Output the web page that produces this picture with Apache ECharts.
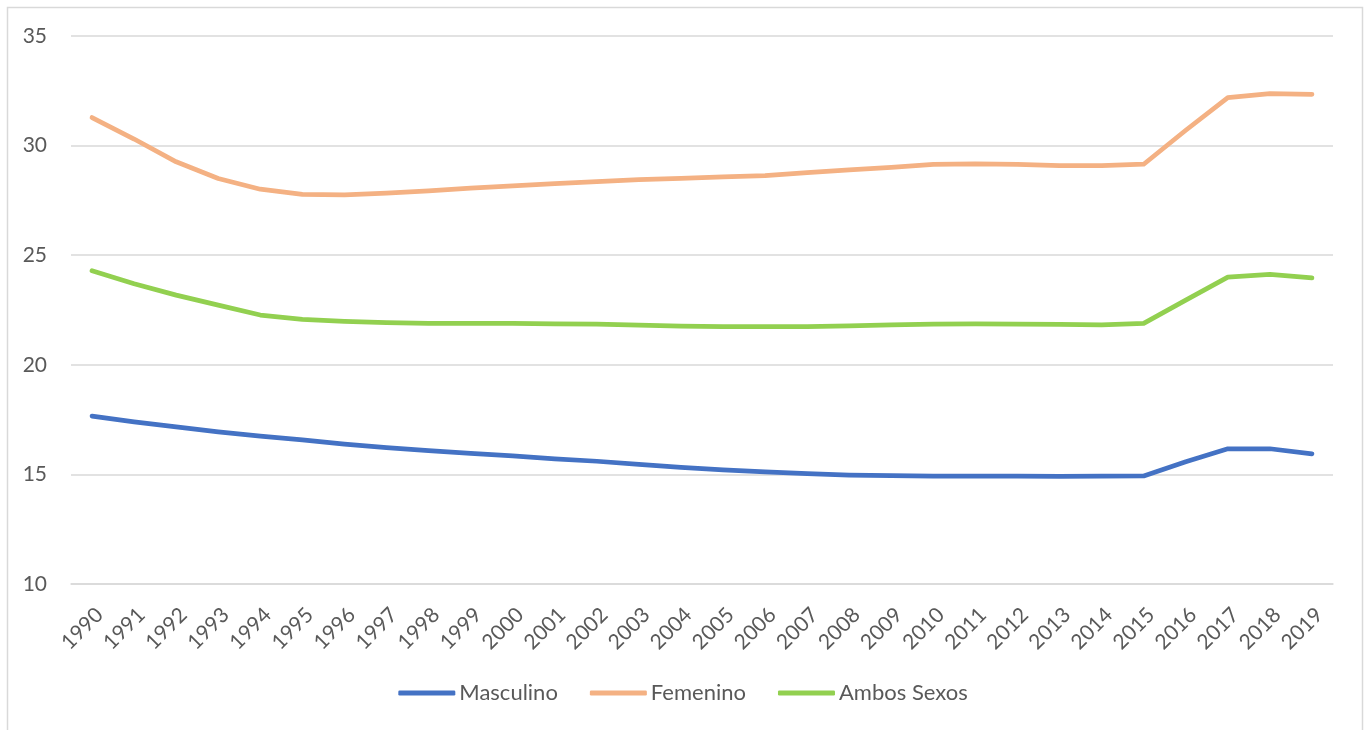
<!DOCTYPE html>
<html>
<head>
<meta charset="utf-8">
<script src="https://cdn.jsdelivr.net/npm/echarts@6/dist/echarts.min.js"></script>
<style>
  html, body { margin: 0; padding: 0; background: #fff; }
  #chart { width: 1366px; height: 730px; }
</style>
</head>
<body>
<div id="chart"></div>
<script>
const years = ['1990','1991','1992','1993','1994','1995','1996','1997','1998','1999',
  '2000','2001','2002','2003','2004','2005','2006','2007','2008','2009',
  '2010','2011','2012','2013','2014','2015','2016','2017','2018','2019'];

const masculino = [17.66, 17.40, 17.17, 16.94, 16.75, 16.57, 16.38, 16.22, 16.08, 15.96,
  15.84, 15.71, 15.60, 15.46, 15.32, 15.21, 15.12, 15.03, 14.97, 14.94,
  14.92, 14.92, 14.92, 14.91, 14.92, 14.93, 15.58, 16.17, 16.17, 15.94];

const femenino = [31.28, 30.30, 29.26, 28.50, 28.01, 27.77, 27.75, 27.83, 27.94, 28.06,
  28.16, 28.27, 28.36, 28.45, 28.51, 28.57, 28.63, 28.77, 28.89, 29.01,
  29.14, 29.17, 29.14, 29.09, 29.09, 29.15, 30.70, 32.19, 32.37, 32.34];

const ambos = [24.29, 23.70, 23.18, 22.72, 22.27, 22.07, 21.98, 21.92, 21.89, 21.89,
  21.89, 21.87, 21.86, 21.81, 21.77, 21.74, 21.74, 21.74, 21.78, 21.82,
  21.86, 21.87, 21.86, 21.84, 21.82, 21.89, 22.95, 24.00, 24.12, 23.97];

const yTicks = { min: 10, max: 35, step: 5 };

const FONT = 'Lato, "Open Sans", sans-serif';
const TEXT = '#595959';

const chart = echarts.init(document.getElementById('chart'), null, { renderer: 'canvas' });

function lineSeries(name, data, color) {
  return {
    name, type: 'line', data,
    showSymbol: false, symbol: 'none', smooth: false,
    lineStyle: { color, width: 4.75, cap: 'round', join: 'round' },
    itemStyle: { color },
    emphasis: { disabled: true }
  };
}

chart.setOption({
  animation: false,
  backgroundColor: '#ffffff',
  graphic: [{
    type: 'rect',
    shape: { x: 7.5, y: 7.5, width: 1355, height: 740 },
    style: { fill: 'none', stroke: '#d9d9d9', lineWidth: 1.5 },
    silent: true, z: -1
  }],
  grid: { left: 71, right: 33, top: 36, bottom: 146, containLabel: false },
  legend: {
    top: 682,
    left: 'center',
    padding: 0,
    itemWidth: 57, itemHeight: 5, itemGap: 32,
    icon: 'roundRect',
    textStyle: { fontFamily: FONT, fontSize: 22, color: TEXT, padding: [0, 0, 0, -1] },
    data: ['Masculino', 'Femenino', 'Ambos Sexos']
  },
  xAxis: {
    type: 'category',
    data: years,
    boundaryGap: true,
    axisLine: { show: true, lineStyle: { color: '#d9d9d9', width: 1.5 } },
    axisTick: { show: false },
    axisLabel: {
      rotate: 45, fontFamily: FONT, fontSize: 21, color: TEXT,
      margin: 20, interval: 0, verticalAlign: 'top'
    }
  },
  yAxis: {
    type: 'value',
    min: yTicks.min, max: yTicks.max, interval: yTicks.step,
    axisLine: { show: false },
    axisTick: { show: false },
    splitLine: { lineStyle: { color: '#d9d9d9', width: 1.5 } },
    axisLabel: { fontFamily: FONT, fontSize: 21, color: TEXT, margin: 24 }
  },
  series: [
    lineSeries('Masculino', masculino, '#4472c4'),
    lineSeries('Femenino', femenino, '#f4b183'),
    lineSeries('Ambos Sexos', ambos, '#92d050')
  ]
});
</script>
</body>
</html>
